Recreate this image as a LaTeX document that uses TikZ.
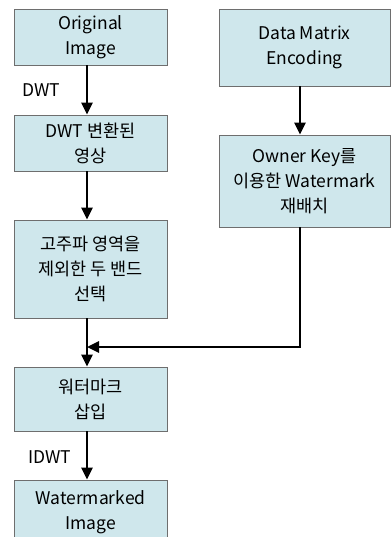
\documentclass[tikz,border=0pt]{standalone}
\usepackage{fontspec}
\setmainfont{Noto Sans CJK KR}
\usetikzlibrary{arrows.meta}
\definecolor{boxfill}{HTML}{CFE7EC}
\definecolor{boxline}{HTML}{6E6E6E}
\begin{document}
\begin{tikzpicture}[x=1pt,y=-1pt,
  box/.style={draw=boxline, fill=boxfill, line width=0.9pt, rectangle, align=center,
    inner sep=0pt, font=\fontsize{17.5}{25}\selectfont},
  flow/.style={line width=2.8pt, -{Triangle[width=11pt,length=12pt]}},
  lbl/.style={font=\fontsize{17.5}{20}\selectfont, inner sep=0pt}]
\useasboundingbox (0,0) rectangle (391,537);
\clip (0,0) rectangle (391,537);
\coordinate (axL) at (87,0);
\coordinate (axR) at (300,0);
\node[box, minimum width=153pt, minimum height=56pt] (b1) at (90.5,37) {Original\\Image};
\node[box, minimum width=153pt, minimum height=56pt] (b2) at (90.5,143) {DWT 변환된\\영상};
\node[box, minimum width=153pt, minimum height=98pt] (b3) at (90.5,269) {고주파 영역을\\제외한 두 밴드\\선택};
\node[box, minimum width=153pt, minimum height=64pt] (b4) at (90.5,399) {워터마크\\삽입};
\node[box, minimum width=153pt, minimum height=64pt] (b5) at (90.5,512) {Watermarked\\Image};
\node[box, minimum width=171pt, minimum height=77pt] (ra) at (304.5,47.5) {Data Matrix\\Encoding};
\node[box, minimum width=171pt, minimum height=92pt] (rb) at (304.5,181) {Owner Key를\\이용한 Watermark\\재배치};
\node[lbl] (ldwt) at (41,90) {DWT};
\node[lbl] (lidwt) at (50,457) {IDWT};
\coordinate (join) at (87,347);
\draw[flow] (b1.south -| axL) -- (b2.north -| axL);
\draw[flow] (b2.south -| axL) -- (b3.north -| axL);
\draw[flow] (b3.south -| axL) -- (b4.north -| axL);
\draw[flow] (b4.south -| axL) -- (b5.north -| axL);
\draw[flow] (ra.south -| axR) -- (rb.north -| axR);
\draw[flow] (rb.south -| axR) |- (join);
\end{tikzpicture}
\end{document}
